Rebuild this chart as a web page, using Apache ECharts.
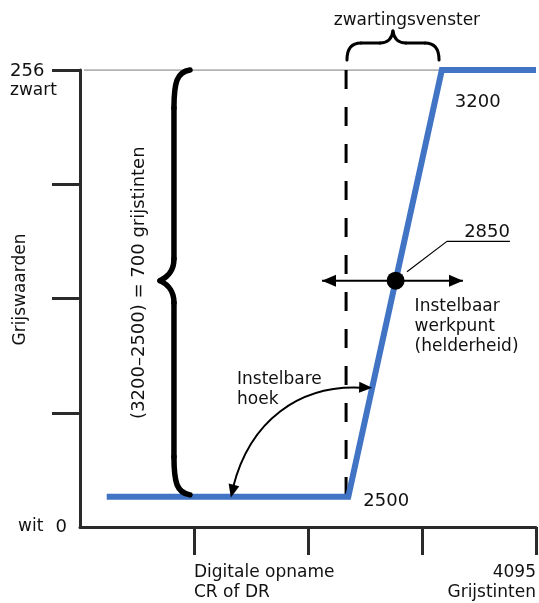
<!DOCTYPE html>
<html><head><meta charset="utf-8">
<script src="https://cdn.jsdelivr.net/npm/echarts@6/dist/echarts.min.js"></script>
<style>html,body{margin:0;padding:0;background:#fff}#c{width:539px;height:603px}</style>
</head><body><div id="c"></div>
<script>
// ---- data (schematic: x = digital value 0..4096, y = grey value 0..256) ----
const curveX = [240, 2410, 3250, 4096];
const curveY = [17, 17, 256, 256];
const windowX = [2390, 2390];
const windowY = [256, 17];
const refLineX = [36, 3230];
const refLineY = [256, 256];
const workPoint = [2835, 138];
const shiftArrowX = [2174, 3440];
const shiftArrowY = [138, 138];
const leaderX = [2937, 3296, 3862];
const leaderY = [143, 160, 160];
const xTicks = [1024, 2048, 3072, 4096];
const yTicks = [64, 128, 192, 256];
const xMax = 4096, yMax = 256;

const FONT = '17px "DejaVu Sans"';
const INK = '#111';

const chart = echarts.init(document.getElementById('c'), null, {renderer: 'canvas'});
const zip = (a, b) => a.map((v, i) => [v, b[i]]);
const axisCommon = {
  type: 'value', min: 0,
  axisLine: {show: true, lineStyle: {color: '#2a2a2a', width: 3}},
  axisLabel: {show: false},
  splitLine: {show: false}
};
chart.setOption({
  animation: false,
  backgroundColor: '#fff',
  grid: {left: 80, right: 3, top: 70, bottom: 76},
  xAxis: Object.assign({}, axisCommon, {max: xMax, interval: 1024,
    axisTick: {show: true, length: 28, customValues: xTicks, lineStyle: {color: '#2a2a2a', width: 3}}}),
  yAxis: Object.assign({}, axisCommon, {max: yMax, interval: 64,
    axisTick: {show: true, length: 28, customValues: yTicks, lineStyle: {color: '#2a2a2a', width: 3}}}),
  series: [
    {type: 'line', data: zip(refLineX, refLineY), symbol: 'none', z: 1,
      lineStyle: {color: '#999', width: 1.5}},
    {type: 'line', data: zip(windowX, windowY), symbol: 'none', z: 2,
      lineStyle: {color: '#000', width: 3, type: [19, 18]}},
    {type: 'line', data: zip(curveX, curveY), symbol: 'none', z: 3,
      lineStyle: {color: '#4174c4', width: 6, join: 'miter'}},
    {type: 'line', data: zip(shiftArrowX, shiftArrowY), symbol: 'none', z: 4,
      lineStyle: {color: '#000', width: 2}},
    {type: 'line', data: zip(leaderX, leaderY), symbol: 'none', z: 4,
      lineStyle: {color: '#000', width: 1.2}},
    {type: 'scatter', data: [workPoint], symbol: 'circle', symbolSize: 18, z: 5,
      itemStyle: {color: '#000', opacity: 1}}
  ]
});

const P = (x, y) => chart.convertToPixel({gridIndex: 0}, [x, y]);
function head(tip, ang, len, wid) {
  const c = Math.cos(ang), s = Math.sin(ang);
  const bx = tip[0] - c * len, by = tip[1] - s * len;
  return {type: 'polygon', z: 10, shape: {points: [tip, [bx - s * wid / 2, by + c * wid / 2], [bx + s * wid / 2, by - c * wid / 2]]},
    style: {fill: '#000'}};
}
function txt(x, y, text, opts) {
  return Object.assign({type: 'text', x: x, y: y, z: 20,
    style: Object.assign({text: text, font: FONT, fill: INK, align: 'left', verticalAlign: 'middle', lineHeight: 20}, (opts && opts.style) || {})},
    (opts && opts.el) || {});
}
// segments: ['C', p0, c1, c2, p1] or ['L', p0, p1]
function strokeSegs(segs, width) {
  return segs.map(s => s[0] === 'L'
    ? {type: 'line', z: 10, shape: {x1: s[1][0], y1: s[1][1], x2: s[2][0], y2: s[2][1]}, style: {stroke: '#000', lineWidth: width, lineCap: 'round'}}
    : {type: 'bezierCurve', z: 10, shape: {x1: s[1][0], y1: s[1][1], cpx1: s[2][0], cpy1: s[2][1], cpx2: s[3][0], cpy2: s[3][1], x2: s[4][0], y2: s[4][1]},
       style: {stroke: '#000', lineWidth: width, fill: null, lineCap: 'round'}});
}

let g = [];
// big brace (3200-2500 = 700)
{
  const t = P(988, 256), b = P(988, 18), k = P(719, 138), sx = P(844, 0)[0];
  g = g.concat(strokeSegs([
    ['C', t, [sx + 3, t[1] + 2], [sx, t[1] + 12], [sx, t[1] + 38]],
    ['L', [sx, t[1] + 38], [sx, k[1] - 22]],
    ['C', [sx, k[1] - 22], [sx, k[1] - 8], [k[0] + 6, k[1] - 3], k],
    ['C', k, [k[0] + 6, k[1] + 3], [sx, k[1] + 8], [sx, k[1] + 22]],
    ['L', [sx, k[1] + 22], [sx, b[1] - 38]],
    ['C', [sx, b[1] - 38], [sx, b[1] - 12], [sx + 3, b[1] - 2], b]
  ], 5.5));
}
// small brace (zwartingsvenster)
{
  const l = P(2398, 261.6), r = P(3225, 261.6), m = P(2811, 271.1), tp = P(2811, 277.9);
  const yb = l[1], ym = m[1], xt = tp[0], yt = tp[1];
  g = g.concat(strokeSegs([
    ['C', [l[0], yb], [l[0], ym + 5], [l[0] + 5, ym], [l[0] + 14, ym]],
    ['L', [l[0] + 14, ym], [xt - 13, ym]],
    ['C', [xt - 13, ym], [xt - 5, ym], [xt - 1, ym - 4], [xt, yt]],
    ['C', [xt, yt], [xt + 1, ym - 4], [xt + 5, ym], [xt + 13, ym]],
    ['L', [xt + 13, ym], [r[0] - 14, ym]],
    ['C', [r[0] - 14, ym], [r[0] - 5, ym], [r[0], ym + 5], [r[0], yb]]
  ], 3));
}
// shift arrow heads
{
  const a = P(shiftArrowX[0], shiftArrowY[0]), b = P(shiftArrowX[1], shiftArrowY[1]);
  g.push(head(a, Math.PI, 14, 12));
  g.push(head(b, 0, 14, 12));
}
// curved angle arrow
{
  const s = P(1374, 22), c1 = P(1527, 60), c2 = P(1976, 79.5), e = P(2520, 78);
  const tipR = P(2624, 78), tipL = P(1355, 16.5);
  g = g.concat(strokeSegs([['C', s, c1, c2, e]], 2));
  g.push(head(tipR, 0.03, 13, 11));
  g.push(head(tipL, Math.atan2(tipL[1] - c1[1], tipL[0] - c1[0]), 13, 11));
}
// texts
{
  const p256 = P(0, 256), p0 = P(0, 0);
  g.push(txt(10, p256[1] + 1, '256', {style: {font: '18px "DejaVu Sans"'}}));
  g.push(txt(10, p256[1] + 21, 'zwart'));
  g.push(txt(18, p0[1], 'wit'));
  g.push(txt(67, p0[1], '0', {style: {align: 'right', font: '18px "DejaVu Sans"'}}));
  g.push(txt(21, (p256[1] + p0[1]) / 2 - 9, 'Grijswaarden', {style: {align: 'center'}, el: {rotation: Math.PI / 2}}));
  const bk = P(880, 138);
  g.push(txt(bk[0] - 39, bk[1] + 2, '(3200\u20132500) = 700 grijstinten', {style: {align: 'center', font: '18px "DejaVu Sans"'}, el: {rotation: Math.PI / 2}}));
  const zw = P(2811, 256);
  g.push(txt(zw[0] + 14, 21, 'zwartingsvenster', {style: {align: 'center'}}));
  const c3200 = P(3250, 256), c2500 = P(2410, 17);
  g.push(txt(c3200[0] + 13, c3200[1] + 32, '3200', {style: {font: '18px "DejaVu Sans"'}}));
  g.push(txt(c2500[0] + 15, c2500[1] + 5, '2500', {style: {font: '18px "DejaVu Sans"'}}));
  const l2850 = P(leaderX[2], leaderY[2]);
  g.push(txt(l2850[0], l2850[1] - 9, '2850', {style: {align: 'right', font: '18px "DejaVu Sans"'}}));
  const wp = P(workPoint[0], workPoint[1]);
  g.push(txt(wp[0] + 19, wp[1] + 16, 'Instelbaar\nwerkpunt\n(helderheid)', {style: {verticalAlign: 'top', lineHeight: 20}}));
  g.push(txt(237, 390, 'Instelbare\nhoek', {style: {verticalAlign: 'middle', lineHeight: 20}}));
  const t1 = P(xTicks[0], 0), t4 = P(xTicks[3], 0);
  g.push(txt(t1[0], t1[1] + 56, 'Digitale opname\nCR of DR', {style: {verticalAlign: 'middle', lineHeight: 20}}));
  g.push(txt(t4[0], t4[1] + 56, '4095\nGrijstinten', {style: {align: 'right', verticalAlign: 'middle', lineHeight: 20}}));
}
chart.setOption({graphic: {elements: g}});
</script>
</body></html>
